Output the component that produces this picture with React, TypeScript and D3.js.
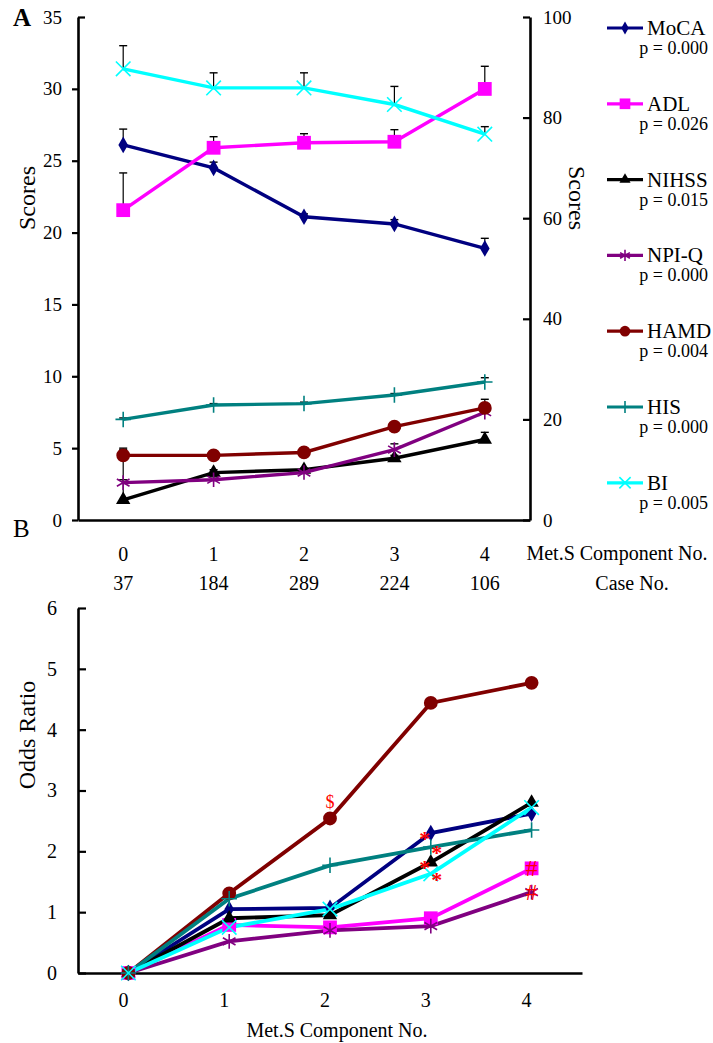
import { useEffect, useRef } from 'react';
import * as d3 from 'd3';

// x categories and case counts
const groups = ['0', '1', '2', '3', '4'];
const caseNos = ['37', '184', '289', '224', '106'];
const seriesNames = ['MoCA', 'ADL', 'NIHSS', 'NPI-Q', 'HAMD', 'HIS', 'BI'];
const pValues = ['0.000', '0.026', '0.015', '0.000', '0.004', '0.000', '0.005'];
// series plotted against the right (0-100) axis in panel A
const rightAxisSeries = ['ADL', 'BI'];

// Panel A: mean scores and top of error bars
const mocaA = [26.1, 24.5, 21.1, 20.6, 18.9];
const mocaErrA = [27.2, 24.9, 21.3, 20.9, 19.6];
const adlA = [61.6, 74.0, 75.0, 75.2, 85.7];
const adlErrA = [69.0, 76.2, 76.8, 77.6, 90.2];
const nihssA = [1.4, 3.3, 3.5, 4.3, 5.6];
const nihssErrA = [4.9, 3.5, 3.6, 4.5, 6.1];
const npiqA = [2.6, 2.8, 3.3, 4.9, 7.5];
const npiqErrA = [2.8, 3.0, 3.4, 5.3, 7.9];
const hamdA = [4.5, 4.5, 4.7, 6.5, 7.8];
const hamdErrA = [5.0, 4.6, 4.8, 6.7, 8.4];
const hisA = [7.0, 8.0, 8.1, 8.7, 9.6];
const hisErrA = [7.1, 8.1, 8.2, 8.8, 9.9];
const biA = [89.7, 85.9, 85.9, 82.6, 76.7];
const biErrA = [94.3, 88.9, 88.9, 86.2, 78.2];

const leftTicksA = [0, 5, 10, 15, 20, 25, 30, 35];
const rightTicksA = [0, 20, 40, 60, 80, 100];

// Panel B: odds ratios
const mocaB = [0, 1.05, 1.07, 2.3, 2.62];
const adlB = [0, 0.79, 0.75, 0.9, 1.72];
const nihssB = [0, 0.9, 0.95, 1.82, 2.8];
const npiqB = [0, 0.52, 0.7, 0.77, 1.33];
const hamdB = [0, 1.31, 2.54, 4.44, 4.77];
const hisB = [0, 1.22, 1.77, 2.07, 2.35];
const biB = [0, 0.75, 1.05, 1.63, 2.72];
const ticksB = [0, 1, 2, 3, 4, 5, 6];

// significance marks in panel B
const marksB = [
  { name: 'HAMD', idx: 2, mark: '$' },
  { name: 'MoCA', idx: 3, mark: '*' },
  { name: 'HIS', idx: 3, mark: '*' },
  { name: 'NIHSS', idx: 3, mark: '*' },
  { name: 'BI', idx: 3, mark: '*' },
  { name: 'ADL', idx: 4, mark: '#' },
  { name: 'NPI-Q', idx: 4, mark: '#' },
];

const colorOf: Record<string, string> = {
  MoCA: '#000080',
  ADL: '#ff00ff',
  NIHSS: '#000000',
  'NPI-Q': '#800080',
  HAMD: '#800000',
  HIS: '#008080',
  BI: '#00ffff',
};

const symbolOf: Record<string, any> = {
  MoCA: d3.symbolDiamond,
  ADL: d3.symbolSquare,
  NIHSS: d3.symbolTriangle,
  'NPI-Q': d3.symbolAsterisk,
  HAMD: d3.symbolCircle,
  HIS: d3.symbolPlus,
  BI: d3.symbolTimes,
};

const sizeOf: Record<string, number> = {
  MoCA: 80,
  ADL: 190,
  NIHSS: 90,
  'NPI-Q': 150,
  HAMD: 150,
  HIS: 80,
  BI: 140,
};

const strokeSymbols = ['NPI-Q', 'HIS', 'BI'];

const FONT = "'Liberation Serif', 'Times New Roman', serif";

export default function App() {
  const svgRef = useRef<SVGSVGElement>(null);

  useEffect(() => {
    if (!svgRef.current) return;
    const svg = d3.select(svgRef.current);
    svg.selectAll('*').remove();

    const drawMarker = (g: any, name: string, x: number, y: number, scale = 1) => {
      const path = d3.symbol().type(symbolOf[name]).size(sizeOf[name] * scale)();
      const m = g.append('path')
        .attr('d', path)
        .attr('transform', `translate(${x},${y})`);
      if (strokeSymbols.includes(name)) {
        m.attr('fill', 'none').attr('stroke', colorOf[name]).attr('stroke-width', 1.6);
      } else {
        m.attr('fill', colorOf[name]);
      }
    };

    const label = (g: any, size: number) =>
      g.append('text').attr('font-family', FONT).attr('font-size', size).attr('fill', '#000');

    const styleAxis = (ax: any, fontSize: number) => {
      ax.attr('font-family', FONT).attr('font-size', fontSize);
      ax.select('.domain').attr('stroke', '#000').attr('stroke-width', 2.6);
      ax.selectAll('.tick line').attr('stroke', '#000').attr('stroke-width', 2.2);
      ax.selectAll('.tick text').attr('fill', '#000');
    };

    // ---------- Panel A ----------
    const xA = d3.scalePoint().domain(groups).range([78, 530]).padding(0.5);
    const yLeft = d3.scaleLinear().domain([0, 35]).range([520, 17]);
    const yRight = d3.scaleLinear().domain([0, 100]).range([520, 17]);
    const gA = svg.append('g');

    const axL = gA.append('g')
      .attr('transform', `translate(${xA.range()[0]},0)`)
      .call(d3.axisLeft(yLeft).tickValues(leftTicksA).tickFormat(d3.format('d'))
        .tickSizeInner(6).tickSizeOuter(0).tickPadding(10));
    styleAxis(axL, 19);
    axL.selectAll('.tick').filter((d: any) => d === 35).select('line').attr('x2', 7);

    const axR = gA.append('g')
      .attr('transform', `translate(${xA.range()[1]},0)`)
      .call(d3.axisRight(yRight).tickValues(rightTicksA).tickFormat(d3.format('d'))
        .tickSizeInner(-7).tickSizeOuter(0).tickPadding(13));
    styleAxis(axR, 19);

    const axBA = gA.append('g')
      .attr('transform', `translate(0,${yLeft(0)})`)
      .call(d3.axisBottom(xA).tickSize(0).tickFormat(() => ''));
    axBA.select('.domain').attr('stroke', '#000').attr('stroke-width', 2.6);

    groups.forEach((d, i) => {
      label(gA, 20).attr('x', xA(d)!).attr('y', 561).attr('text-anchor', 'middle').text(d);
      label(gA, 20).attr('x', xA(d)!).attr('y', 590).attr('text-anchor', 'middle').text(caseNos[i]);
    });
    label(gA, 20).attr('x', 617).attr('y', 560).attr('text-anchor', 'middle').text('Met.S Component No.');
    label(gA, 20).attr('x', 632).attr('y', 590).attr('text-anchor', 'middle').text('Case No.');

    label(gA, 24).attr('transform', 'translate(35,198) rotate(-90)')
      .attr('text-anchor', 'middle').text('Scores');
    label(gA, 24).attr('transform', 'translate(569,198) rotate(90)')
      .attr('text-anchor', 'middle').text('Scores');
    label(svg, 25).attr('x', 13).attr('y', 26).attr('font-weight', 'bold').text('A');
    label(svg, 25).attr('x', 13).attr('y', 537).text('B');

    const panelA = [
      { name: 'MoCA', values: mocaA, err: mocaErrA },
      { name: 'ADL', values: adlA, err: adlErrA },
      { name: 'NIHSS', values: nihssA, err: nihssErrA },
      { name: 'NPI-Q', values: npiqA, err: npiqErrA },
      { name: 'HAMD', values: hamdA, err: hamdErrA },
      { name: 'HIS', values: hisA, err: hisErrA },
      { name: 'BI', values: biA, err: biErrA },
    ];

    // error bars (upper half only, as in the figure)
    panelA.forEach(s => {
      const y = rightAxisSeries.includes(s.name) ? yRight : yLeft;
      s.values.forEach((v, i) => {
        const x = xA(groups[i])!;
        gA.append('line').attr('x1', x).attr('x2', x).attr('y1', y(v)).attr('y2', y(s.err[i]))
          .attr('stroke', '#000').attr('stroke-width', 1.2);
        gA.append('line').attr('x1', x - 4).attr('x2', x + 4).attr('y1', y(s.err[i])).attr('y2', y(s.err[i]))
          .attr('stroke', '#000').attr('stroke-width', 1.4);
      });
    });

    panelA.forEach(s => {
      const y = rightAxisSeries.includes(s.name) ? yRight : yLeft;
      const line = d3.line<number>().x((d, i) => xA(groups[i])!).y(d => y(d));
      gA.append('path')
        .datum(s.values)
        .attr('d', line)
        .attr('fill', 'none')
        .attr('stroke', colorOf[s.name])
        .attr('stroke-width', 3.4);
      s.values.forEach((v, i) => drawMarker(gA, s.name, xA(groups[i])!, y(v)));
    });

    // legend
    const leg = svg.append('g');
    seriesNames.forEach((name, i) => {
      const cy = 28 + i * 75.8;
      leg.append('line').attr('x1', 607).attr('x2', 643).attr('y1', cy).attr('y2', cy)
        .attr('stroke', colorOf[name]).attr('stroke-width', 3.2);
      drawMarker(leg, name, 625, cy, 0.6);
      label(leg, 21).attr('x', 647).attr('y', cy + 7).text(name);
      label(leg, 18).attr('x', 708).attr('y', cy + 26).attr('text-anchor', 'end').text(`p = ${pValues[i]}`);
    });

    // ---------- Panel B ----------
    const xB = d3.scalePoint().domain(groups).range([78, 582]).padding(0.5);
    const yB = d3.scaleLinear().domain([0, 6]).range([973, 608]);
    const gB = svg.append('g');

    const axLB = gB.append('g')
      .attr('transform', `translate(${xB.range()[0]},0)`)
      .call(d3.axisLeft(yB).tickValues(ticksB).tickFormat(d3.format('d'))
        .tickSizeInner(-8).tickSizeOuter(0).tickPadding(21));
    styleAxis(axLB, 20);

    const axBB = gB.append('g')
      .attr('transform', `translate(0,${yB(0)})`)
      .call(d3.axisBottom(xB).tickSize(0).tickFormat(() => ''));
    axBB.select('.domain').attr('stroke', '#000').attr('stroke-width', 2.6);

    groups.forEach(d => {
      label(gB, 20).attr('x', xB(d)! - 5).attr('y', 1007).attr('text-anchor', 'middle').text(d);
    });
    label(gB, 20).attr('x', 337).attr('y', 1037).attr('text-anchor', 'middle').text('Met.S Component No.');
    label(gB, 24).attr('transform', 'translate(35,735) rotate(-90)')
      .attr('text-anchor', 'middle').text('Odds Ratio');

    const panelB = [
      { name: 'MoCA', values: mocaB },
      { name: 'ADL', values: adlB },
      { name: 'NIHSS', values: nihssB },
      { name: 'NPI-Q', values: npiqB },
      { name: 'HAMD', values: hamdB },
      { name: 'HIS', values: hisB },
      { name: 'BI', values: biB },
    ];

    panelB.forEach(s => {
      const line = d3.line<number>().x((d, i) => xB(groups[i])!).y(d => yB(d));
      gB.append('path')
        .datum(s.values)
        .attr('d', line)
        .attr('fill', 'none')
        .attr('stroke', colorOf[s.name])
        .attr('stroke-width', 3.8);
    });
    panelB.forEach(s => {
      s.values.forEach((v, i) => drawMarker(gB, s.name, xB(groups[i])!, yB(v)));
    });

    // significance marks; stacked asterisks are nudged left/right alternately so they stay legible
    const markSize: Record<string, number> = { $: 18, '*': 22, '#': 24 };
    const markDy: Record<string, number> = { $: -10, '*': 13, '#': 8 };
    let starCount = 0;
    marksB.forEach(m => {
      const s = panelB.find(p => p.name === m.name)!;
      let dx = 0;
      if (m.mark === '*') {
        dx = starCount % 2 === 0 ? -6 : 6;
        starCount += 1;
      }
      label(gB, markSize[m.mark])
        .attr('fill', '#ff0000')
        .attr('font-weight', m.mark === '*' ? 'bold' : 'normal')
        .attr('text-anchor', 'middle')
        .attr('x', xB(groups[m.idx])! + dx)
        .attr('y', yB(s.values[m.idx]) + markDy[m.mark])
        .text(m.mark);
    });
  }, []);

  return (
    <div style={{ position: 'absolute', left: 0, top: 0 }}>
      <svg ref={svgRef} width={713} height={1043} style={{ display: 'block', background: '#fff' }} />
    </div>
  );
}
